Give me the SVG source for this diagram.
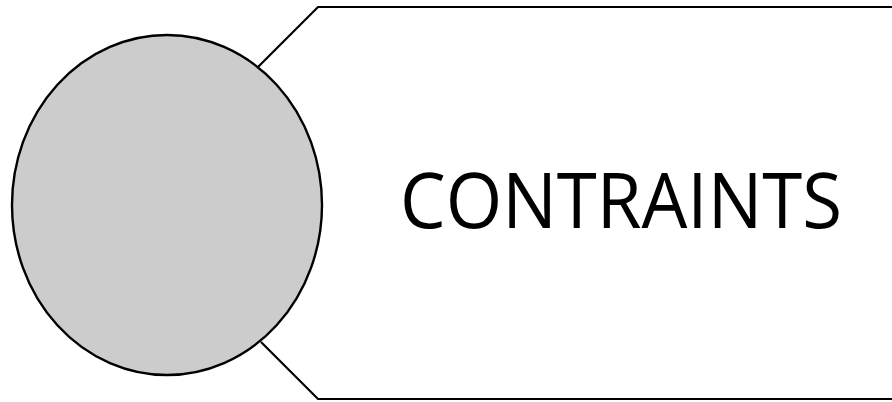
<svg xmlns="http://www.w3.org/2000/svg" width="892" height="402" viewBox="0 0 892 402">
  <style>
    .outline { fill: #ffffff; stroke: #000000; stroke-width: 2.2; stroke-linejoin: miter; }
    .disc { fill: #cccccc; stroke: #000000; stroke-width: 2.4; }
    .label { font-family: "Open Sans", "Noto Sans", "Liberation Sans", sans-serif; font-size: 76px; fill: #000000; }
  </style>
  <rect width="892" height="402" fill="#ffffff"/>
  <!-- Label panel: bevelled tab running off the right edge -->
  <g id="panel">
    <path class="outline" d="M 258 67 L 318 7 L 900 7 L 900 399 L 318 399 L 261 342"/>
    <text class="label" x="400" y="228" textLength="442" lengthAdjust="spacingAndGlyphs">CONTRAINTS</text>
  </g>
  <!-- Grey disc overlapping the panel's left side -->
  <g id="disc">
    <ellipse class="disc" cx="167" cy="205" rx="155" ry="170"/>
  </g>
</svg>
